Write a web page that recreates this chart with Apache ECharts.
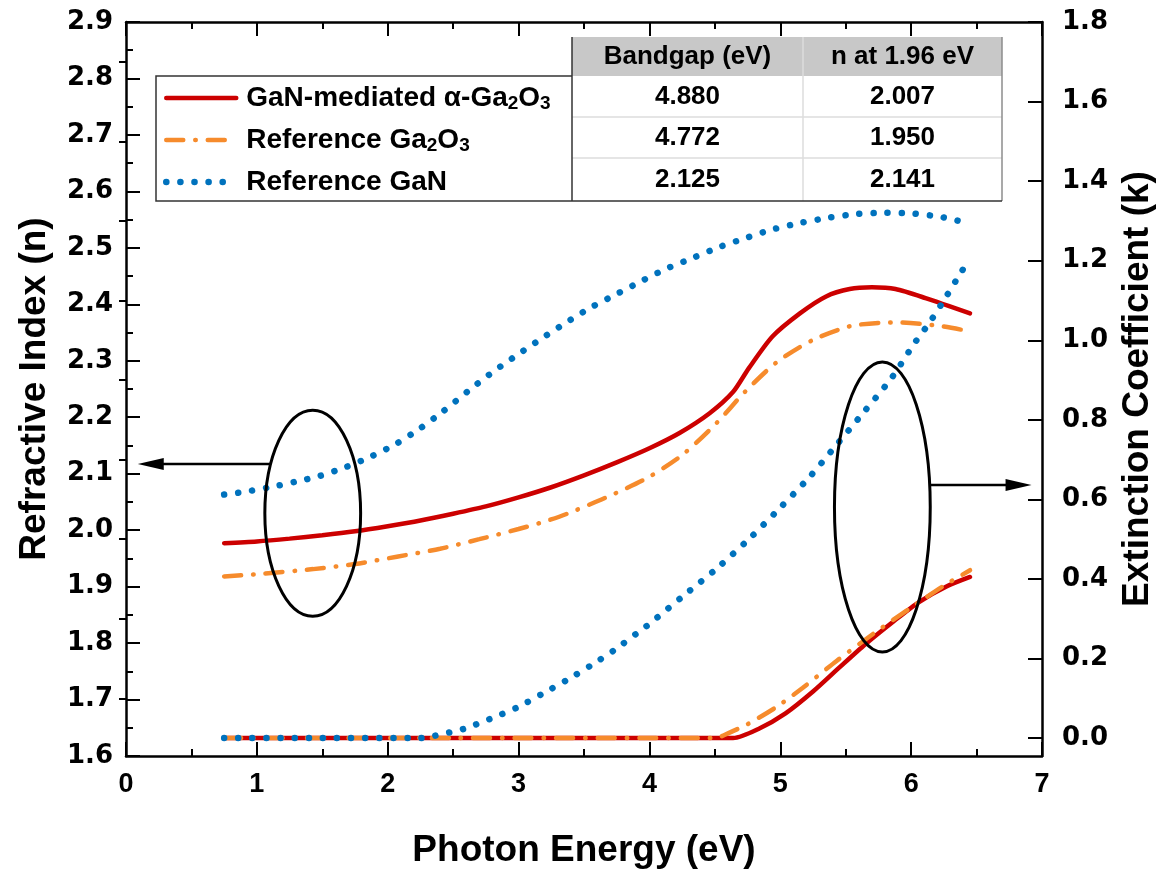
<!DOCTYPE html>
<html><head><meta charset="utf-8">
<script src="https://cdn.jsdelivr.net/npm/echarts@6/dist/echarts.min.js"></script>
<style>html,body{margin:0;padding:0;background:#fff}#c{width:1156px;height:873px}</style>
</head><body><div id="c"></div>
<script>
// ---- data ----
const seriesNames = ['GaN-mediated α-Ga2O3', 'Reference Ga2O3', 'Reference GaN'];
// refractive index n vs photon energy (eV)
const nGaNMediated = [[0.75,1.977],[1.0,1.980],[1.25,1.985],[1.5,1.991],[1.75,1.998],[2.0,2.007],[2.25,2.017],[2.5,2.029],[2.75,2.042],[3.0,2.058],[3.25,2.076],[3.5,2.097],[3.75,2.120],[4.0,2.145],[4.23,2.172],[4.46,2.207],[4.64,2.245],[4.76,2.287],[4.94,2.343],[5.15,2.384],[5.35,2.414],[5.53,2.427],[5.70,2.430],[5.88,2.427],[6.11,2.411],[6.45,2.384]];
const nRefGa2O3 = [[0.75,1.918],[1.0,1.922],[1.43,1.931],[1.75,1.940],[2.07,1.953],[2.40,1.967],[2.70,1.984],[3.0,2.002],[3.21,2.016],[3.37,2.029],[3.67,2.058],[3.98,2.092],[4.25,2.133],[4.51,2.189],[4.73,2.245],[4.97,2.297],[5.25,2.337],[5.55,2.362],[5.88,2.368],[6.21,2.362],[6.45,2.352]];
const nRefGaN = [[0.75,2.063],[0.91,2.068],[1.10,2.076],[1.32,2.087],[1.48,2.096],[1.66,2.110],[1.86,2.129],[2.05,2.151],[2.24,2.179],[2.41,2.208],[2.65,2.253],[2.82,2.283],[3.0,2.312],[3.18,2.340],[3.36,2.367],[3.55,2.394],[3.74,2.417],[3.93,2.440],[4.12,2.462],[4.33,2.482],[4.53,2.501],[4.73,2.517],[4.93,2.532],[5.15,2.544],[5.36,2.553],[5.58,2.560],[5.79,2.562],[6.0,2.561],[6.22,2.555],[6.45,2.543]];
// extinction coefficient k vs photon energy (eV)
const kGaNMediated = [[0.75,0],[2.5,0],[4.64,0],[4.84,0.024],[5.04,0.062],[5.25,0.117],[5.45,0.177],[5.65,0.236],[5.86,0.292],[6.06,0.342],[6.27,0.381],[6.45,0.405]];
const kRefGa2O3 = [[0.75,0],[2.5,0],[4.50,0],[4.60,0.012],[4.75,0.035],[4.97,0.078],[5.17,0.126],[5.43,0.194],[5.71,0.262],[5.99,0.326],[6.24,0.381],[6.45,0.422]];
const kRefGaN = [[0.75,0],[1.5,0],[2.25,0],[2.36,0.006],[2.47,0.014],[2.58,0.023],[2.78,0.048],[2.99,0.077],[3.18,0.111],[3.37,0.146],[3.56,0.184],[3.74,0.223],[3.91,0.265],[4.0,0.287],[4.25,0.355],[4.51,0.425],[4.76,0.500],[4.99,0.576],[5.22,0.655],[5.43,0.737],[5.64,0.820],[5.85,0.905],[6.02,0.990],[6.15,1.049],[6.27,1.111],[6.38,1.170],[6.45,1.205]];
// table
const tableHeader = ['Bandgap (eV)', 'n at 1.96 eV'];
const bandgapValues = ['4.880', '4.772', '2.125'];
const nAt196Values = ['2.007', '1.950', '2.141'];
// right axis tick values
const kMajorTicks = [0, 0.2, 0.4, 0.6, 0.8, 1.0, 1.2, 1.4, 1.6, 1.8];
const kMinorTicks = [0.1, 0.3, 0.5, 0.7, 0.9, 1.1, 1.3, 1.5, 1.7];

// ---- styles ----
const RED = '#cc0000', ORANGE = '#f68b2c', BLUE = '#0072bd';
const SANS = "'Liberation Sans', Arial, sans-serif";
const WIDE = "'DejaVu Sans', sans-serif";
const richMap = {
  'GaN-mediated α-Ga2O3': '{t|GaN-mediated α-Ga}{s|2}{t|O}{s|3}',
  'Reference Ga2O3': '{t|Reference Ga}{s|2}{t|O}{s|3}',
  'Reference GaN': '{t|Reference GaN}'
};

const chart = echarts.init(document.getElementById('c'), null, {renderer: 'canvas'});

const tickCommon = {inside: true, length: 14, lineStyle: {color: '#000', width: 2}};
const minorCommon = {show: true, splitNumber: 2, length: 7, lineStyle: {color: '#000', width: 2}};
const lineCommon = {show: true, onZero: false, lineStyle: {color: '#000', width: 2.5}};

const solidStyle = {width: 4.5, type: 'solid', cap: 'round'};
const dashDotStyle = {width: 4.5, type: [17, 12, 0.5, 12], cap: 'round'};
const dotStyle = {width: 6.5, type: [0.1, 14], cap: 'round'};
const colors = [RED, ORANGE, BLUE];
const styles = [solidStyle, dashDotStyle, dotStyle];

function mkSeries(i, data, yIdx) {
  return {type: 'line', name: seriesNames[i], data, xAxisIndex: 0, yAxisIndex: yIdx, symbol: 'none',
    smooth: 0.25, lineStyle: Object.assign({color: colors[i]}, styles[i]),
    itemStyle: {color: colors[i]}, emphasis: {disabled: true}, silent: true, animation: false};
}

const option = {
  animation: false,
  backgroundColor: '#fff',
  grid: {left: 126, right: 114, top: 22, bottom: 117, containLabel: false, outerBoundsMode: 'none'},
  legend: {
    data: seriesNames.map((n, i) => ({name: n, lineStyle: Object.assign({color: colors[i]}, styles[i])})),
    orient: 'vertical', left: 163, top: 84, padding: 0,
    itemWidth: 70, itemHeight: 14, itemGap: 13, selectedMode: false,
    itemStyle: {opacity: 0},
    formatter: n => richMap[n],
    textStyle: {color: '#000', padding: [0, 0, 0, 5],
      rich: {
        t: {fontFamily: SANS, fontWeight: 'bold', fontSize: 28, lineHeight: 30, color: '#000'},
        s: {fontFamily: SANS, fontWeight: 'bold', fontSize: 19, lineHeight: 12, verticalAlign: 'bottom', color: '#000'}
      }}
  },
  xAxis: [
    {type: 'value', position: 'bottom', min: 0, max: 7, interval: 1,
      axisLine: lineCommon, axisTick: tickCommon, minorTick: minorCommon, splitLine: {show: false},
      axisLabel: {fontFamily: SANS, fontWeight: 'bold', fontSize: 27, color: '#000', margin: 15},
      name: 'Photon Energy (eV)', nameLocation: 'middle', nameGap: 76,
      nameTextStyle: {fontFamily: SANS, fontWeight: 'bold', fontSize: 37, color: '#000'}},
    {type: 'value', position: 'top', min: 0, max: 7, interval: 1,
      axisLine: lineCommon, axisTick: tickCommon, minorTick: minorCommon, splitLine: {show: false},
      axisLabel: {show: false}}
  ],
  yAxis: [
    {type: 'value', position: 'left', min: 1.6, max: 2.9, interval: 0.1,
      axisLine: lineCommon, axisTick: tickCommon, minorTick: minorCommon, splitLine: {show: false},
      axisLabel: {fontFamily: WIDE, fontWeight: 'bold', fontSize: 26, color: '#000', margin: 13,
        formatter: v => v.toFixed(1)},
      name: 'Refractive Index (n)', nameLocation: 'middle', nameGap: 73, nameRotate: 90,
      nameTextStyle: {fontFamily: SANS, fontWeight: 'bold', fontSize: 37, color: '#000'}},
    {type: 'value', position: 'right', min: -0.045, max: 1.8,
      axisLine: lineCommon,
      axisTick: Object.assign({}, tickCommon, {customValues: kMajorTicks}),
      splitLine: {show: false},
      axisLabel: {fontFamily: WIDE, fontWeight: 'bold', fontSize: 26, color: '#000', margin: 20,
        customValues: kMajorTicks, formatter: v => v.toFixed(1)},
      name: 'Extinction Coefficient (k)', nameLocation: 'middle', nameGap: 76, nameRotate: 90,
      nameTextStyle: {fontFamily: SANS, fontWeight: 'bold', fontSize: 37, color: '#000'}},
    {type: 'value', position: 'right', min: -0.045, max: 1.8,
      axisLine: {show: false},
      axisTick: {inside: true, length: 7, lineStyle: {color: '#000', width: 2}, customValues: kMinorTicks},
      axisLabel: {show: false}, splitLine: {show: false}}
  ],
  series: [
    mkSeries(0, nGaNMediated, 0),
    mkSeries(0, kGaNMediated, 1),
    mkSeries(1, nRefGa2O3, 0),
    mkSeries(1, kRefGa2O3, 1),
    mkSeries(2, nRefGaN, 0),
    mkSeries(2, kRefGaN, 1)
  ]
};
chart.setOption(option);

// ---- legend frame + table (layout decoration) ----
const T = {x0: 156, xL: 572, xM: 803, x1: 1002, yH: 37, y0: 76, r1: 117, r2: 158, y1: 201};
const rowCenters = [97, 138, 180];
const g = [];
g.push({type: 'rect', shape: {x: T.xL, y: T.yH, width: T.x1 - T.xL, height: T.y0 - T.yH}, style: {fill: '#c8c8c8'}, z: 1});
[[T.xL, T.r1, T.x1, T.r1], [T.xL, T.r2, T.x1, T.r2], [T.xM, T.yH, T.xM, T.y1]].forEach(s =>
  g.push({type: 'line', shape: {x1: s[0], y1: s[1], x2: s[2], y2: s[3]}, style: {stroke: '#dcdcdc', lineWidth: 1.5}, z: 2}));
g.push({type: 'line', shape: {x1: T.x1, y1: T.yH, x2: T.x1, y2: T.y1}, style: {stroke: '#8c8c8c', lineWidth: 1.5}, z: 3});
g.push({type: 'polyline', shape: {points: [[T.xL, T.yH], [T.xL, T.y1]]}, style: {stroke: '#333', lineWidth: 1.5}, z: 3});
g.push({type: 'polyline', shape: {points: [[T.xL, T.y0], [T.x0, T.y0], [T.x0, T.y1], [T.x1, T.y1]]}, style: {stroke: '#333', lineWidth: 1.5, fill: null}, z: 3});
const colCenters = [(T.xL + T.xM) / 2, (T.xM + T.x1) / 2];
tableHeader.forEach((h, i) => g.push({type: 'text', x: colCenters[i], y: (T.yH + T.y0) / 2,
  style: {text: h, fontFamily: SANS, fontWeight: 'bold', fontSize: 26, fill: '#000', align: 'center', verticalAlign: 'middle'}, z: 4}));
[bandgapValues, nAt196Values].forEach((col, ci) => col.forEach((v, ri) => g.push({type: 'text', x: colCenters[ci], y: rowCenters[ri],
  style: {text: v, fontFamily: SANS, fontWeight: 'bold', fontSize: 26, fill: '#000', align: 'center', verticalAlign: 'middle'}, z: 4})));

// ---- annotations (ellipses + arrows) in data coordinates ----
const annoLeft = {axis: 0, cx: 1.427, cy: 2.030, rx: 0.366, ry: 0.1824, arrowY: 2.117, arrowFrom: 1.10, arrowTo: 0.09};
const annoRight = {axis: 1, cx: 5.78, cy: 0.581, rx: 0.366, ry: 0.3645, arrowY: 0.636, arrowFrom: 6.14, arrowTo: 6.92};
function anno(a) {
  const px = p => chart.convertToPixel({xAxisIndex: 0, yAxisIndex: a.axis}, p);
  const c = px([a.cx, a.cy]);
  const e = px([a.cx + a.rx, a.cy + a.ry]);
  g.push({type: 'ellipse', shape: {cx: c[0], cy: c[1], rx: Math.abs(e[0] - c[0]), ry: Math.abs(c[1] - e[1])},
    style: {stroke: '#000', lineWidth: 3, fill: null}, z: 5});
  const s = px([a.arrowFrom, a.arrowY]), t = px([a.arrowTo, a.arrowY]);
  const dir = Math.sign(t[0] - s[0]);
  const hl = 26, hw = 6;
  g.push({type: 'line', shape: {x1: s[0], y1: s[1], x2: t[0] - dir * hl * 0.6, y2: t[1]}, style: {stroke: '#000', lineWidth: 2.5}, z: 5});
  g.push({type: 'polygon', shape: {points: [[t[0], t[1]], [t[0] - dir * hl, t[1] - hw], [t[0] - dir * hl, t[1] + hw]]}, style: {fill: '#000'}, z: 5});
}
anno(annoLeft); anno(annoRight);
chart.setOption({graphic: g});
</script></body></html>
